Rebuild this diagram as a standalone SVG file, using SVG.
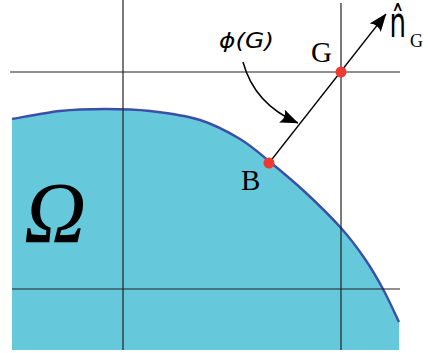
<svg xmlns="http://www.w3.org/2000/svg" width="428" height="353" viewBox="0 0 428 353">
<style>
.grid{stroke:#222;stroke-width:1.2;fill:none}
.conn{stroke:#000;fill:none}
.pt{fill:#ee3a31}
.serif{font-family:"Liberation Serif","Times New Roman",serif;fill:#000}
.sans{font-family:"DejaVu Sans","Liberation Sans",sans-serif;fill:#000}
</style>
<defs>
<marker id="arr" viewBox="0 0 18 14" refX="17.5" refY="7" markerWidth="18" markerHeight="14" markerUnits="userSpaceOnUse" orient="auto">
<path d="M0,0 L18,7 L0,14 Q5,7 0,0 Z" fill="#000"/>
</marker>
</defs>
<g id="domain">
<path d="M12,119 C20,117.7 44.5,112.7 60,111 C75.5,109.3 90,109 105,109 C120,109 134.2,109.2 150,111 C165.8,112.8 185,115.3 200,120 C215,124.7 228.3,132 240,139 C251.7,146 259.2,153.2 270,162 C280.8,170.8 293.2,181 305,192 C316.8,203 331,216.8 341,228 C351,239.2 358,248.8 365,259 C372,269.2 377.3,278.5 383,289 C388.7,299.5 396.3,316.5 399,322 L399,350 L12,350 Z" fill="#66c8db"/>
<path d="M12,119 C20,117.7 44.5,112.7 60,111 C75.5,109.3 90,109 105,109 C120,109 134.2,109.2 150,111 C165.8,112.8 185,115.3 200,120 C215,124.7 228.3,132 240,139 C251.7,146 259.2,153.2 270,162 C280.8,170.8 293.2,181 305,192 C316.8,203 331,216.8 341,228 C351,239.2 358,248.8 365,259 C372,269.2 377.3,278.5 383,289 C388.7,299.5 396.3,316.5 399,322" fill="none" stroke="#3a4fa8" stroke-width="2.4"/>
<text class="serif" x="24" y="242" font-size="86" font-style="italic">Ω</text>
</g>
<g id="grid">
<line class="grid" x1="123" y1="0" x2="123" y2="350"/>
<line class="grid" x1="341" y1="3" x2="341" y2="350"/>
<line class="grid" x1="10" y1="72" x2="400" y2="72"/>
<line class="grid" x1="12" y1="289" x2="400" y2="289"/>
</g>
<g id="connectors">
<line class="conn" x1="269" y1="163" x2="386" y2="14" stroke-width="1.3" marker-end="url(#arr)"/>
<path class="conn" d="M243,62 C250,88 268,110 298,123" stroke-width="1.5" marker-end="url(#arr)"/>
</g>
<g id="node-B">
<circle class="pt" cx="269" cy="163" r="5.5"/>
<text class="serif" x="241" y="190" font-size="29">B</text>
</g>
<g id="node-G">
<circle class="pt" cx="341" cy="72" r="5.5"/>
<text class="serif" x="311" y="62" font-size="29">G</text>
</g>
<g id="label-phi">
<text class="sans" x="219" y="48" font-size="22" font-style="italic" textLength="55" lengthAdjust="spacingAndGlyphs">ϕ(G)</text>
</g>
<g id="label-normal">
<text class="sans" transform="translate(389.5,37) scale(0.62,1)" font-size="42">n&#x302;</text>
<text class="serif" x="410" y="47" font-size="18">G</text>
</g>
</svg>
